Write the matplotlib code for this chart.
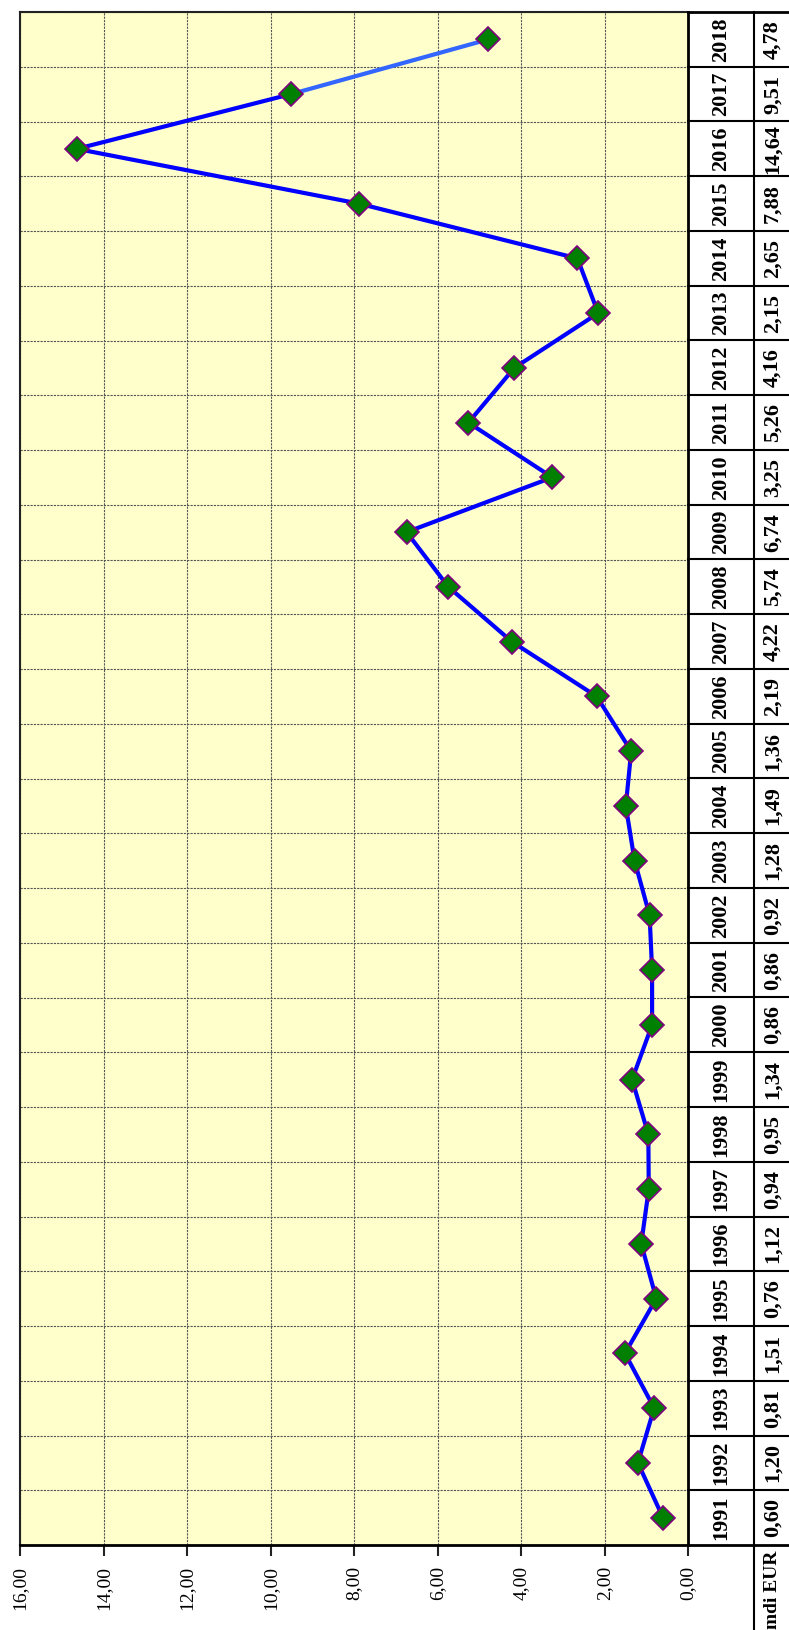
import matplotlib
matplotlib.use('Agg')
import matplotlib.pyplot as plt

# data (mdi EUR per year)
years = [1991, 1992, 1993, 1994, 1995, 1996, 1997, 1998, 1999, 2000,
         2001, 2002, 2003, 2004, 2005, 2006, 2007, 2008, 2009, 2010,
         2011, 2012, 2013, 2014, 2015, 2016, 2017, 2018]
values = [0.60, 1.20, 0.81, 1.51, 0.76, 1.12, 0.94, 0.95, 1.34, 0.86,
          0.86, 0.92, 1.28, 1.49, 1.36, 2.19, 4.22, 5.74, 6.74, 3.25,
          5.26, 4.16, 2.15, 2.65, 7.88, 14.64, 9.51, 4.78]
value_ticks = [0, 2, 4, 6, 8, 10, 12, 14, 16]
unit_label = 'mdi EUR'

def fmt(v):
    return f'{v:.2f}'.replace('.', ',')

serif = 'Liberation Serif'

W, H = 789, 1630
fig = plt.figure(figsize=(W / 100, H / 100), dpi=100)

# plot area in pixels (chart is drawn rotated: values run right->left)
pl, pr, pt, pb = 20, 688, 12, 1545
ax = fig.add_axes([pl / W, 1 - pb / H, (pr - pl) / W, (pb - pt) / H])
ax.set_facecolor('#FFFFCC')

n = len(years)
pos = [i + 0.5 for i in range(n)]
ax.plot(values[:-1], pos[:-1], color='#0000FF', lw=3, zorder=3, solid_capstyle='round')
ax.plot(values[-2:], pos[-2:], color='#3366FF', lw=3, zorder=3)
ax.plot(values, pos, ls='none', marker='D', ms=12, mfc='#008000',
        mec='#800080', mew=1.2, zorder=4)

ax.set_xlim(16, 0)
ax.set_ylim(0, n)
ax.set_xticks(value_ticks)
ax.set_xticklabels([fmt(v) for v in value_ticks], rotation=90,
                   fontfamily=serif, fontsize=14)
ax.set_yticks(range(0, n + 1))
ax.set_yticklabels([])
ax.tick_params(axis='y', length=0)
ax.tick_params(axis='x', direction='out', length=8, width=1.5, pad=7, color='#222222')
ax.grid(True, color='#555555', linestyle=(0, (2, 1)), linewidth=0.8, zorder=1)
ax.set_axisbelow(True)

for side in ['left', 'top']:
    ax.spines[side].set_color('#222222')
    ax.spines[side].set_linewidth(1.5)
for side in ['right', 'bottom']:
    ax.spines[side].set_color('black')
    ax.spines[side].set_linewidth(2)

# data table on the right
tr = W + 6
tab = fig.add_axes([pr / W, 0, (tr - pr) / W, 1 - pt / H])
cell_h = (pb - pt) / n
y_bot = -(H - pb) / cell_h
tab.set_xlim(pr, tr)
tab.set_ylim(y_bot, n)
tab.axis('off')
col_split = 754

for k in range(n + 1):
    lw = 2 if k in (0, n) else 1.5
    tab.plot([pr, tr], [k, k], color='black', lw=lw, clip_on=False)
tab.plot([col_split, col_split], [y_bot, n], color='black', lw=1.5, clip_on=False)

for i in range(n):
    tab.text((pr + col_split) / 2, i + 0.5, str(years[i]), rotation=90,
             ha='center', va='center', fontfamily=serif, fontweight='bold', fontsize=16)
    tab.text((col_split + W) / 2 + 1, i + 0.5, fmt(values[i]), rotation=90,
             ha='center', va='center', fontfamily=serif, fontweight='bold', fontsize=16)

tab.text((col_split + W) / 2 + 1, y_bot / 2 - 0.05, unit_label, rotation=90,
         ha='center', va='center', fontfamily=serif, fontweight='bold', fontsize=14)

fig.savefig('out.png', dpi=100, facecolor='white')
